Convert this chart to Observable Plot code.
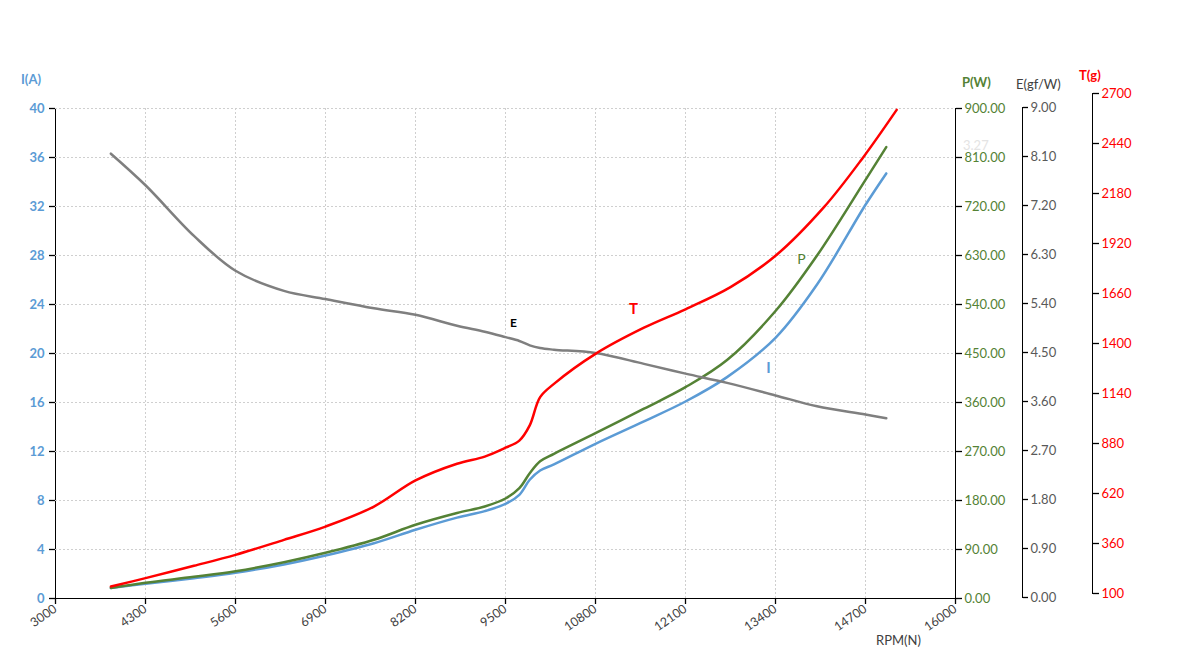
<!DOCTYPE html>
<html><head><meta charset="utf-8">
<script src="https://cdn.jsdelivr.net/npm/d3@7"></script>
<script src="https://cdn.jsdelivr.net/npm/@observablehq/plot@0.6"></script>
<style>
body{margin:0;background:#fff;}
#chart{position:relative;width:1193px;height:651px;font-family:Lato,"Open Sans",sans-serif;overflow:hidden;}
#chart > div{position:absolute;left:0;top:0;width:1193px;height:651px;}
#chart svg{background:transparent;color:#000;}
.ttl{position:absolute;font-size:13px;white-space:nowrap;transform:translate(0,-50%);line-height:1;}
#pI [aria-label^="y-axis"] text{fill:#5b9bd5;font-weight:bold;font-size:13px;}
#pI [aria-label^="x-axis"] text{fill:#404040;font-size:12.5px;}
#pP [aria-label^="y-axis"] text{fill:#548235;font-size:13px;}
#pEa [aria-label^="y-axis"] text{fill:#595959;font-size:13px;}
#pTa [aria-label^="y-axis"] text{fill:#ff0000;font-size:13px;}
[aria-label^="y-axis"] line, [aria-label^="x-axis"] line, [aria-label^="y-axis"] path, [aria-label^="x-axis"] path{stroke-width:1.3;}
</style></head><body><div id="chart"></div>
<script>
// ---- data ----
const rpm        = [3800, 4300, 5000, 5600, 6300, 6900, 7600, 8200, 8800, 9200, 9500, 9700, 9850, 10000, 10200, 10800, 11500, 12100, 12700, 13400, 14000, 14700, 15000];
const current    = [0.86, 1.20, 1.66, 2.10, 2.78, 3.51, 4.51, 5.61, 6.60, 7.13, 7.72, 8.46, 9.69, 10.45, 10.95, 12.63, 14.46, 16.08, 18.07, 21.28, 25.63, 32.14, 34.70];
const power      = [19.3, 28.8, 39.8, 50.1, 66.7, 83.9, 107.8, 135.4, 157, 169, 183.7, 202.6, 230, 252, 265.7, 303.6, 348.6, 388.1, 438, 528, 630, 769, 829];
const efficiency = [8.17, 7.59, 6.66, 6.02, 5.65, 5.50, 5.33, 5.21, 5.01, 4.90, 4.80, 4.73, 4.65, 4.60, 4.57, 4.51, 4.31, 4.13, 3.96, 3.73, 3.53, 3.38, 3.31];
const rpmThrust  = [3800, 4300, 5000, 5600, 6300, 6900, 7600, 8200, 8800, 9200, 9500, 9700, 9850, 10000, 10200, 10800, 11500, 12100, 12750, 13400, 14100, 14650, 15150];
const thrust     = [136, 180, 244, 301, 379, 448, 552, 688, 775, 812, 858, 895, 974, 1121, 1190, 1346, 1482, 1578, 1693, 1856, 2109, 2360, 2615];

const rpmTicks    = d3.range(0, 11).map(i => 3000 + i * 1300);
const currentTicks= d3.range(0, 11).map(i => i * 4);
const powerTicks  = d3.range(0, 11).map(i => i * 90);
const effTicks    = d3.range(0, 11).map(i => i * 0.9);
const thrustTicks = d3.range(0, 11).map(i => 100 + i * 260);

const labelsE = [{x: 9615, y: 5.05, t: "E"}];
const labelsT = [{x: 11349, y: 1577, t: "T"}];
const labelsP = [{x: 13776, y: 622, t: "P"}];
const labelsI = [{x: 13299, y: 18.8, t: "I"}];

// ---- colors ----
const cI = "#5b9bd5", cP = "#548235", cE = "#7f7f7f", cT = "#ff0000";
const grid = {stroke: "#cfcfcf", strokeDasharray: "2,2"};
const FONT = 'Lato, "Open Sans", sans-serif';
const CURVE = "catmull-rom";

const W = 1193, H = 651;
const base = {width: W, height: H, marginLeft: 55, marginRight: 238, marginTop: 108, marginBottom: 53,
  style: {background: "transparent", fontFamily: FONT, overflow: "visible", fontSize: "13px"}};

const el = document.getElementById("chart");
function add(id, p){ const d = document.createElement("div"); d.id = id; d.appendChild(p); el.appendChild(d); }

// main: grid, x axis, I axis, I line
add("pI", Plot.plot({...base,
  x: {domain: [3000, 16000], ticks: rpmTicks, tickFormat: d3.format("d"), tickSize: 6, tickPadding: 3, tickRotate: -35, label: null, line: true},
  y: {domain: [0, 40], ticks: currentTicks, tickSize: 6, tickPadding: 5, label: null, line: true},
  marks: [
    Plot.ruleX(rpmTicks.slice(1), grid),
    Plot.ruleY(currentTicks.slice(1), grid),
    Plot.line(rpm, {x: rpm, y: current, stroke: cI, strokeWidth: 2.5, curve: CURVE}),
    Plot.text(labelsI, {x: "x", y: "y", text: "t", fill: cI, fontSize: 15, fontWeight: "bold"})
  ]}));

// P line + P axis
add("pP", Plot.plot({...base,
  x: {domain: [3000, 16000], axis: null},
  y: {domain: [0, 900], axis: "right", ticks: powerTicks, tickFormat: d3.format(".2f"), tickSize: 6, tickPadding: 3, label: null, line: true},
  marks: [
    Plot.line(rpm, {x: rpm, y: power, stroke: cP, strokeWidth: 2.5, curve: CURVE}),
    Plot.text(labelsP, {x: "x", y: "y", text: "t", fill: cP, fontSize: 14})
  ]}));

// E line
add("pE", Plot.plot({...base,
  x: {domain: [3000, 16000], axis: null},
  y: {domain: [0, 9], axis: null},
  marks: [
    Plot.line(rpm, {x: rpm, y: efficiency, stroke: cE, strokeWidth: 2.5, curve: CURVE}),
    Plot.text(labelsE, {x: "x", y: "y", text: "t", fill: "#000", fontSize: 12, fontWeight: "bold"})
  ]}));

// E axis (offset)
add("pEa", Plot.plot({...base, marginTop: 107, marginBottom: 54, marginRight: W - 1022,
  x: {domain: [0, 1], axis: null},
  y: {domain: [0, 9], axis: "right", ticks: effTicks, tickFormat: d3.format(".2f"), tickSize: 5, tickPadding: 3, label: null, line: true},
  marks: []}));

// T line
add("pT", Plot.plot({...base, marginTop: 93, marginBottom: H - 593,
  x: {domain: [3000, 16000], axis: null},
  y: {domain: [100, 2700], axis: null},
  marks: [
    Plot.line(rpmThrust, {x: rpmThrust, y: thrust, stroke: cT, strokeWidth: 2.5, curve: CURVE}),
    Plot.text(labelsT, {x: "x", y: "y", text: "t", fill: cT, fontSize: 15, fontWeight: "bold"})
  ]}));

// T axis (offset)
add("pTa", Plot.plot({...base, marginTop: 93, marginBottom: H - 593, marginRight: W - 1092,
  x: {domain: [0, 1], axis: null},
  y: {domain: [100, 2700], axis: "right", ticks: thrustTicks, tickFormat: d3.format("d"), tickSize: 6, tickPadding: 3, label: null, line: true},
  marks: []}));

// titles
function ttl(text, left, top, css){
  const d = document.createElement("span");
  d.className = "ttl"; d.textContent = text;
  d.style.left = left + "px"; d.style.top = top + "px";
  Object.assign(d.style, css || {});
  el.appendChild(d);
}
ttl("I(A)", 21, 79, {color: cI, fontWeight: "bold"});
ttl("P(W)", 962, 82, {color: cP, fontWeight: "bold"});
ttl("E(gf/W)", 1016, 84, {color: "#404040"});
ttl("T(g)", 1079, 75, {color: cT, fontWeight: "bold"});
ttl("RPM(N)", 876, 640, {color: "#404040"});
ttl("3.27", 963, 145, {color: "#e4e4e4"});
</script></body></html>
